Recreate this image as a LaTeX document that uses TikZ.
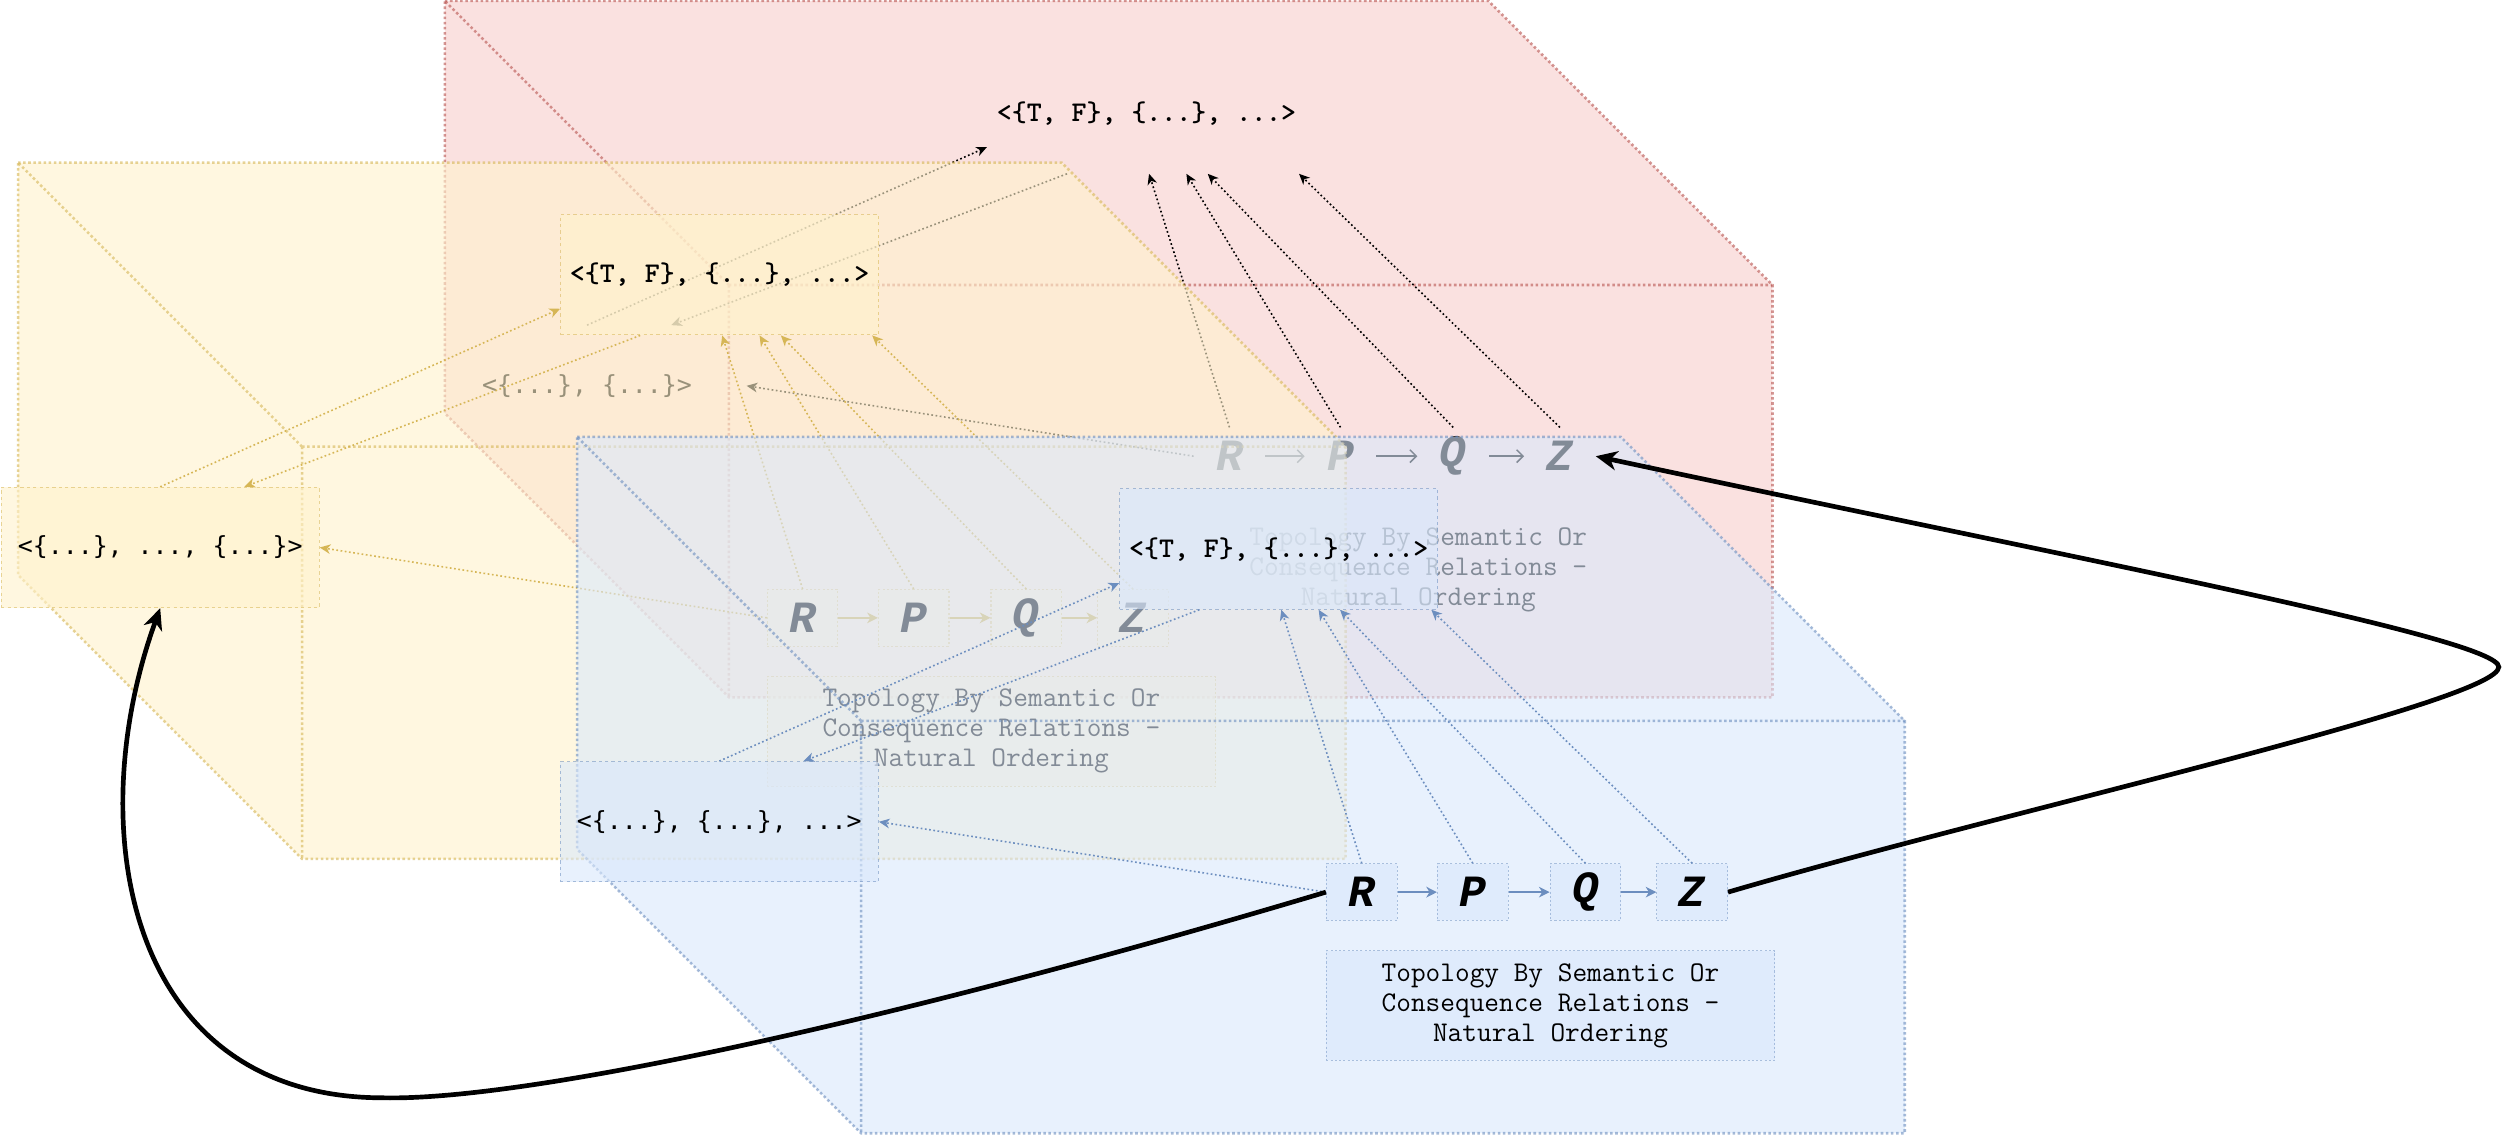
\documentclass[tikz,border=0pt]{standalone}
\usepackage{fontspec}
\newfontfamily\djm{DejaVu Sans Mono}
\newfontfamily\cour{Liberation Mono}
\usetikzlibrary{arrows.meta,calc}
\definecolor{rfill}{HTML}{F8CECC}
\definecolor{rstroke}{HTML}{B85450}
\definecolor{yfill}{HTML}{FFF2CC}
\definecolor{ystroke}{HTML}{D6B656}
\definecolor{bfill}{HTML}{DAE8FC}
\definecolor{bstroke}{HTML}{6C8EBF}
\newcommand\tupAfont{\ttfamily\bfseries\fontsize{13.4}{14.1}\selectfont}
\newcommand\tupBfont{\djm\fontsize{11.7}{14.1}\selectfont}
\newcommand\topofont{\ttfamily\fontsize{13.4}{14.1}\selectfont}
\newcommand\letfont{\cour\bfseries\itshape\fontsize{21}{21}\selectfont}
\tikzset{
  cubeline/.style={line width=1.2pt, dash pattern=on 1.2pt off 1.2pt, fill opacity=0.6, draw opacity=0.6},
  rcube/.style={fill=rfill, draw=rstroke},
  ycube/.style={fill=yfill, draw=ystroke},
  bcube/.style={fill=bfill, draw=bstroke},
  tuplebox/.style={minimum width=149.5pt, minimum height=56.55pt, inner sep=0pt, line width=0.5pt,
     dash pattern=on 1.5pt off 1.5pt, fill opacity=0.6, draw opacity=0.55, text opacity=1},
  letterbox/.style={minimum width=33.2pt, minimum height=26.6pt, inner sep=0pt, line width=0.5pt,
     dash pattern=on 1pt off 1pt, fill opacity=0.6, draw opacity=0.5, text opacity=1, font=\letfont},
  topobox/.style={minimum width=210.75pt, minimum height=51.5pt, inner sep=0pt, line width=0.5pt,
     dash pattern=on 1pt off 1pt, fill opacity=0.6, draw opacity=0.5, text opacity=1, align=center, font=\topofont},
  rbox/.style={draw=none, fill=none},
  ybox/.style={fill=yfill, draw=ystroke},
  bbox/.style={fill=bfill, draw=bstroke},
  conn/.style={line width=0.75pt, dash pattern=on 0.8pt off 1.2pt, -{Stealth[length=5pt,width=4.5pt,inset=1.5pt]}},
  rconn/.style={draw=black},
  yconn/.style={draw=ystroke},
  bconn/.style={draw=bstroke},
  chainarr/.style={line width=0.7pt, -{Stealth[length=5pt,width=5pt,inset=1.5pt]}},
  rchain/.style={draw=black, -{Straight Barb[length=3pt,width=6pt]}},
  ychain/.style={draw=ystroke},
  bchain/.style={draw=bstroke},
  bigarrow/.style={line width=2.2pt, draw=black, -{Stealth[length=10pt,width=9pt,inset=3pt]}}
}
\newcommand\mylayer[4]{%
\begin{scope}[shift={(#2,#3)}]
\draw[cubeline,#1cube] (11.3,101.9) -- (665.3,101.9) -- (843.3,279.9) -- (843.3,538.3) -- (189.3,538.3) -- (11.3,360.3) -- cycle;
\draw[cubeline,#1cube,fill=none] (189.3,279.9) -- (11.3,101.9) (189.3,279.9) -- (843.3,279.9) (189.3,279.9) -- (189.3,538.3);
\node[tuplebox,#1box,font=\tupAfont] (#1A) at (451,172.2) {<\{T, F\}, \{...\}, ...>};
\node[tuplebox,#1box,font=\tupBfont] (#1B) at (100.4,343.1) {#4};
\node[letterbox,#1box] (#1R) at (503,387.2) {R};
\node[letterbox,#1box] (#1P) at (572.6,387.2) {P};
\node[letterbox,#1box] (#1Q) at (643.2,387.2) {Q};
\node[letterbox,#1box] (#1Z) at (710.1,387.2) {Z};
\node[topobox,#1box] (#1T) at (621.3,458.3) {Topology By Semantic Or\\Consequence Relations -\\Natural Ordering};
\draw[chainarr,#1chain] (#1R) -- (#1P);
\draw[chainarr,#1chain] (#1P) -- (#1Q);
\draw[chainarr,#1chain] (#1Q) -- (#1Z);
\draw[conn,#1conn] (#1R.north) -- ($(#1A.south west)!0.508!(#1A.south east)$);
\draw[conn,#1conn] (#1P.north) -- ($(#1A.south west)!0.625!(#1A.south east)$);
\draw[conn,#1conn] (#1Q.north) -- ($(#1A.south west)!0.692!(#1A.south east)$);
\draw[conn,#1conn] (#1Z.north) -- ($(#1A.south west)!0.978!(#1A.south east)$);
\draw[conn,#1conn] (#1R.west) -- (#1B.east);
\draw[conn,#1conn] (#1B.north) -- ($(#1A.north west)!0.78!(#1A.south west)$);
\draw[conn,#1conn] ($(#1A.south west)!0.251!(#1A.south east)$) -- ($(#1B.north west)!0.764!(#1B.north east)$);
\end{scope}}
\begin{document}
\begin{tikzpicture}[x=0.75pt,y=-0.75pt]
\useasboundingbox (0,0) rectangle (1568,712.6);
\fill[white] (0,0) rectangle (1568,712.6);
\mylayer{r}{267.5}{-101.3}{<\{...\}, \{...\}>}
\mylayer{y}{0}{0}{<\{...\}, ..., \{...\}>}
\mylayer{b}{350.4}{171.9}{<\{...\}, \{...\}, ...>}
\draw[bigarrow] (bZ.east) .. controls (1250,510) and (1566,440) .. (1566,418) .. controls (1566,400) and (1300,350) .. (rZ.east);
\draw[bigarrow] (bR.west) .. controls (560,640) and (330,690) .. (240,688) .. controls (80,688) and (50,520) .. (yB.south);
\end{tikzpicture}
\end{document}
